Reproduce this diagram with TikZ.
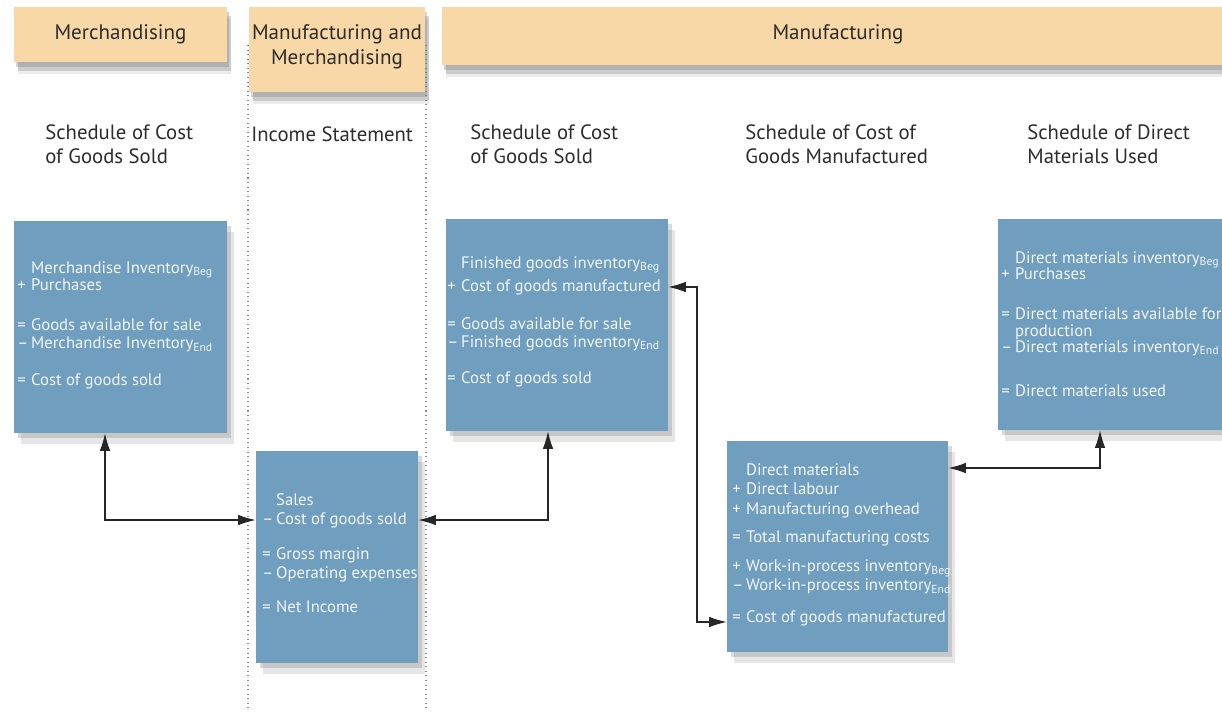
\documentclass[tikz,border=0pt]{standalone}
\usepackage{fontspec}
\setmainfont{PT Sans}
\usetikzlibrary{arrows.meta,shadows,fit}

\definecolor{headtan}{RGB}{248,216,166}
\definecolor{boxblue}{RGB}{112,158,190}
\definecolor{boxtext}{RGB}{242,246,250}
\definecolor{titlegray}{RGB}{45,45,45}

\tikzset{
  headbox/.style={fill=headtan, inner sep=0pt,
    drop shadow={shadow xshift=1pt, shadow yshift=-3pt, opacity=0.35},
    drop shadow={shadow xshift=2pt, shadow yshift=-5pt, opacity=0.3},
    drop shadow={shadow xshift=2pt, shadow yshift=-7pt, opacity=0.15}},
  bluebox/.style={fill=boxblue, inner sep=0pt,
    drop shadow={shadow xshift=2pt, shadow yshift=-3pt, opacity=0.3},
    drop shadow={shadow xshift=4pt, shadow yshift=-6pt, opacity=0.2}},
  headtext/.style={text=titlegray, font=\fontsize{12}{14.5}\selectfont, align=center},
  schedtitle/.style={text=titlegray, font=\fontsize{11.8}{14.2}\selectfont, anchor=base west, inner sep=0pt},
  boxtxt/.style={text=boxtext, font=\fontsize{9.5}{10.2}\selectfont, anchor=base west, inner sep=0pt},
  link/.style={draw=black!85, line width=0.6pt,
    {Latex[length=10pt,width=6pt]}-{Latex[length=10pt,width=6pt]}},
  divider/.style={draw=black!45, dotted, line width=0.6pt}
}

\begin{document}
\begin{tikzpicture}[x=0.02cm, y=-0.02cm]

\useasboundingbox (0,0) rectangle (1222,711);

% DIVIDERS
\draw [divider] (248,45) -- (248,711);
\draw [divider] (426,45) -- (426,711);

% HEADERS
\node [headbox, fit={(14,7) (227,62)}] (h-merch) {};
\node [headbox, fit={(249,7) (425,92)}] (h-both) {};
\node [headbox, fit={(442,7) (1222,65)}] (h-manu) {};
\node [headtext] (h-merch-t) at (h-merch) {Merchandising};
\node [headtext] (h-both-t) at (337,47) {Manufacturing and\\Merchandising};
\node [headtext] (h-manu-t) at (838,34) {Manufacturing};

% TITLES
\node [schedtitle] (t-merch) at (45,139) {\begin{tabular}[t]{@{}l@{}}Schedule of Cost\\of Goods Sold\end{tabular}};
\node [schedtitle] (t-inc) at (251,141) {Income Statement};
\node [schedtitle] (t-cogs) at (470,139) {\begin{tabular}[t]{@{}l@{}}Schedule of Cost\\of Goods Sold\end{tabular}};
\node [schedtitle] (t-cogm) at (745,139) {\begin{tabular}[t]{@{}l@{}}Schedule of Cost of\\Goods Manufactured\end{tabular}};
\node [schedtitle] (t-dm) at (1027,139) {\begin{tabular}[t]{@{}l@{}}Schedule of Direct\\Materials Used\end{tabular}};

% BOXES
\node [bluebox, fit={(14,221) (227,433)}] (merch) {};
\node [bluebox, fit={(256,451) (418,663)}] (inc) {};
\node [bluebox, fit={(446,219) (668,431)}] (cogs) {};
\node [bluebox, fit={(727,441) (948,652)}] (cogm) {};
\node [bluebox, fit={(998,219) (1222,430)}] (dm) {};

\node [boxtxt] (merch-t) at (17,273) {\begin{tabular}[t]{@{}l@{\,}l@{}}
   & Merchandise Inventory\textsubscript{Beg}\\
+  & Purchases\\[12.5pt]
=  & Goods available for sale\\
-- & Merchandise Inventory\textsubscript{End}\\[10.5pt]
=  & Cost of goods sold
\end{tabular}};

\node [boxtxt] (inc-t) at (262,505) {\begin{tabular}[t]{@{}l@{\,}l@{}}
   & Sales\\[1pt]
-- & Cost of goods sold\\[9.5pt]
=  & Gross margin\\[1pt]
-- & Operating expenses\\[9pt]
=  & Net Income
\end{tabular}};

\node [boxtxt] (cogs-t) at (447,268) {\begin{tabular}[t]{@{}l@{\,}l@{}}
   & Finished goods inventory\textsubscript{Beg}\\[3pt]
+  & Cost of goods manufactured\\[11.5pt]
=  & Goods available for sale\\
-- & Finished goods inventory\textsubscript{End}\\[10.5pt]
=  & Cost of goods sold
\end{tabular}};

\node [boxtxt] (cogm-t) at (732,475) {\begin{tabular}[t]{@{}l@{\,}l@{}}
   & Direct materials\\[1pt]
+  & Direct labour\\[1pt]
+  & Manufacturing overhead\\[6pt]
=  & Total manufacturing costs\\[6pt]
+  & Work-in-process inventory\textsubscript{Beg}\\[1pt]
-- & Work-in-process inventory\textsubscript{End}\\[7.5pt]
=  & Cost of goods manufactured
\end{tabular}};

\node [boxtxt] (dm-t) at (1001,263) {\begin{tabular}[t]{@{}l@{\,}l@{}}
   & Direct materials inventory\textsubscript{Beg}\\[-1pt]
+  & Purchases\\[13pt]
=  & Direct materials available for\\[-1pt]
   & production\\[-1pt]
-- & Direct materials inventory\textsubscript{End}\\[15pt]
=  & Direct materials used
\end{tabular}};

% LINKS
\coordinate (j1) at (105,520);
\coordinate (j2) at (548,520);
\coordinate (j3) at (697,287);
\coordinate (j4) at (697,622);
\coordinate (j5) at (1100,468);
\draw [link] (merch.south -| j1) |- (inc.west |- j1);
\draw [link] (inc.east |- j2) -| (cogs.south -| j2);
\draw [link] (cogs.east |- j3) -- (j3) -- (j4) -- (cogm.west |- j4);
\draw [link] (cogm.east |- j5) -| (dm.south -| j5);

\end{tikzpicture}
\end{document}
